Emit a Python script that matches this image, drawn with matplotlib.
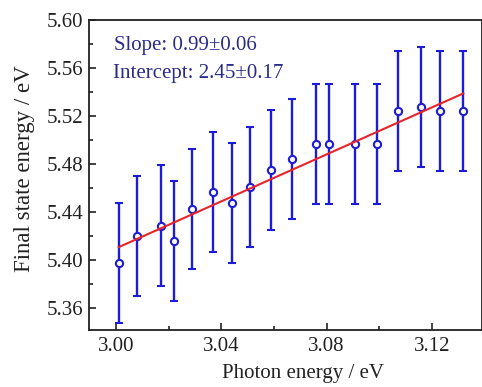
import matplotlib

matplotlib.use("Agg")
import matplotlib.pyplot as plt
from matplotlib.ticker import FormatStrFormatter, MultipleLocator

# photon energy (eV) and final state energy (eV)
photon_energy = [3.001, 3.008, 3.017, 3.022, 3.029, 3.037, 3.044, 3.051, 3.059,
                 3.067, 3.076, 3.081, 3.091, 3.099, 3.107, 3.116, 3.123, 3.132]
final_energy = [5.398, 5.420, 5.429, 5.416, 5.443, 5.457, 5.448, 5.461, 5.475,
                5.484, 5.497, 5.497, 5.497, 5.497, 5.524, 5.528, 5.524, 5.524]
final_error = [0.05] * len(final_energy)

# linear fit drawn in the reference
fit_x = [3.001, 3.132]
fit_y = [5.411, 5.539]

slope_text = "Slope: 0.99\u00b10.06"
intercept_text = "Intercept: 2.45\u00b10.17"

plt.rcParams["font.family"] = ["Liberation Serif", "DejaVu Serif"]

blue = "#1c1cd8"
ink = "#222222"
figure = plt.figure(figsize=(4.82, 3.87), dpi=100)
axis = figure.add_axes([0.1846, 0.1473, 0.8144, 0.8007])

axis.errorbar(
    photon_energy,
    final_energy,
    yerr=final_error,
    fmt="o",
    color=blue,
    ecolor=blue,
    elinewidth=1.7,
    capsize=3.2,
    capthick=1.7,
    markersize=5.2,
    markerfacecolor="white",
    markeredgecolor=blue,
    markeredgewidth=1.5,
    zorder=3,
)
axis.plot(fit_x, fit_y, color="#e8242a", linewidth=1.5, zorder=4)

axis.set_xlim(2.9897, 3.1389)
axis.set_ylim(5.342, 5.60)
axis.xaxis.set_major_locator(MultipleLocator(0.04))
axis.xaxis.set_minor_locator(MultipleLocator(0.02))
axis.yaxis.set_major_locator(MultipleLocator(0.04))
axis.yaxis.set_minor_locator(MultipleLocator(0.02))
axis.xaxis.set_major_formatter(FormatStrFormatter("%.2f"))
axis.yaxis.set_major_formatter(FormatStrFormatter("%.2f"))

axis.tick_params(which="major", direction="in", length=5, width=1.2,
                 labelsize=15, colors=ink)
axis.tick_params(which="minor", direction="in", length=3, width=1.2, colors=ink)
axis.tick_params(axis="x", which="major", pad=5)
axis.tick_params(axis="y", which="major", pad=4)
axis.tick_params(top=False, right=False, which="both")
for spine in axis.spines.values():
    spine.set_linewidth(1.3)
    spine.set_color(ink)

axis.set_xlabel("Photon energy / eV", fontsize=15, color=ink)
axis.set_ylabel("Final state energy / eV", fontsize=16.5, color=ink)
axis.xaxis.set_label_coords(0.545, -0.11)
axis.yaxis.set_label_coords(-0.137, 0.52)

axis.text(0.0636, 0.903, slope_text, transform=axis.transAxes, fontsize=15,
          color="#2a2a8c", va="baseline")
axis.text(0.061, 0.814, intercept_text, transform=axis.transAxes, fontsize=15,
          color="#2a2a8c", va="baseline")

figure.savefig("out.png", dpi=100)
plt.close(figure)
